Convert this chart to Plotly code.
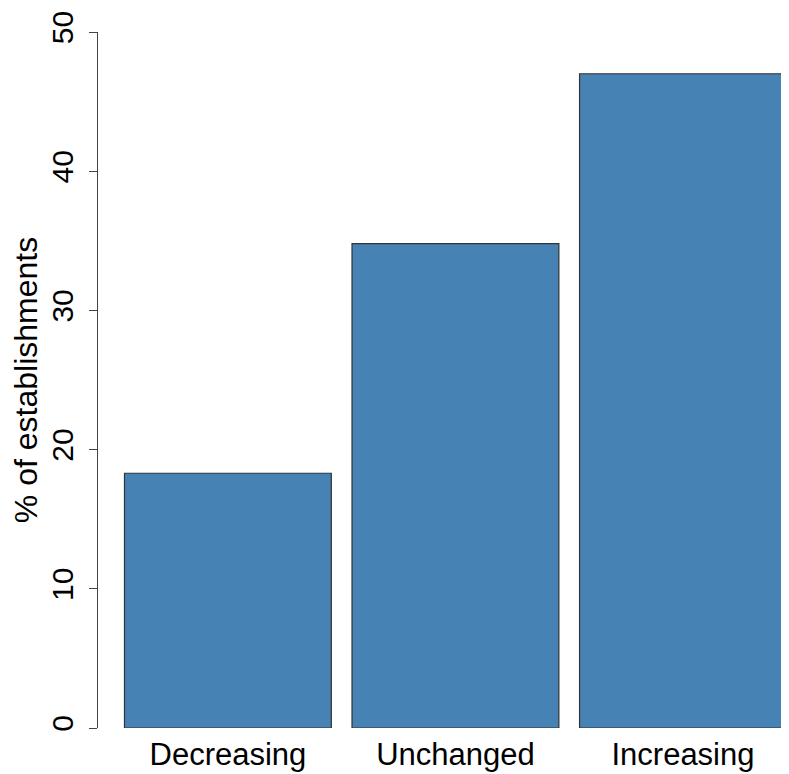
import plotly.graph_objects as go

categories = ["Decreasing", "Unchanged", "Increasing"]
values = [18.3, 34.8, 47.0]
bar_centers = [0.6, 1.7, 2.8]
y_ticks = [0, 10, 20, 30, 40, 50]

OFF = 8  # page body margin offset
W, H = 789 - OFF, 774 - OFF
left, right_px, top, bottom = 97.5, 789, 32, 728  # target screen coords

fig = go.Figure()
fig.add_trace(go.Bar(
    x=bar_centers, y=values, width=1.0,
    marker=dict(color="#4682B4", line=dict(color="#333333", width=1.2)),
    hoverinfo="skip",
))

ppu = 207.0
x0 = 0.1 - (124 - left) / ppu
x1 = 0.1 + (right_px - 124) / ppu

fig.update_layout(
    width=W, height=H,
    margin=dict(l=left - OFF, r=W - (right_px - OFF), t=top - OFF, b=H - (bottom - OFF)),
    plot_bgcolor="white", paper_bgcolor="white",
    showlegend=False,
    font=dict(family="Liberation Sans, Arial, sans-serif", color="black"),
    xaxis=dict(
        range=[x0, x1], tickmode="array", tickvals=bar_centers, ticktext=categories,
        showline=False, showgrid=False, zeroline=False, ticks="",
        tickfont=dict(size=31), ticklabelstandoff=5, automargin=False,
    ),
    yaxis=dict(
        range=[0, 50], tickmode="array", tickvals=y_ticks,
        ticktext=[str(v) for v in y_ticks],
        showline=True, linecolor="#444444", linewidth=1,
        ticks="outside", ticklen=8, tickcolor="#444444", tickwidth=1,
        showgrid=False, zeroline=False, tickangle=-90,
        tickfont=dict(size=30), ticklabelstandoff=4, automargin=False,
        title=dict(text="% of establishments", font=dict(size=32), standoff=8),
    ),
)

fig.write_html("out.html")
